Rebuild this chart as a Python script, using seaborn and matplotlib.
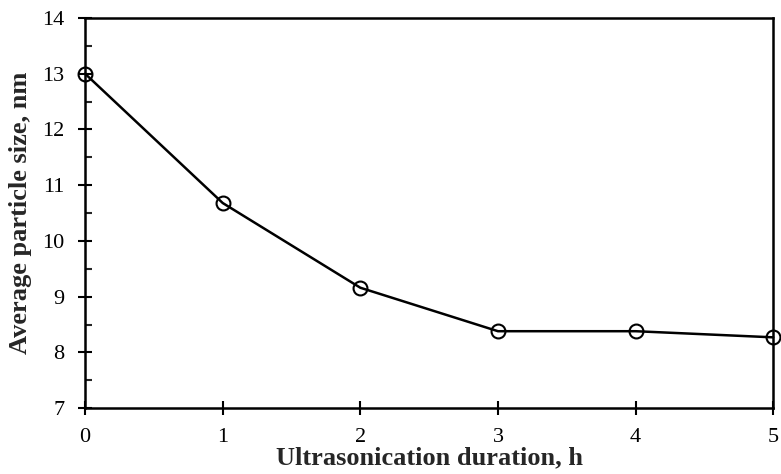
import matplotlib
matplotlib.use("Agg")
import matplotlib.pyplot as plt
import seaborn as sns
import pandas as pd
from matplotlib.ticker import MultipleLocator

duration_h = [0, 1, 2, 3, 4, 5]
particle_size_nm = [13.0, 10.68, 9.16, 8.38, 8.38, 8.27]

df = pd.DataFrame({"duration": duration_h, "size": particle_size_nm})

sns.set_style("ticks")
plt.rcParams['font.family'] = ['Liberation Serif', 'DejaVu Serif']

fig = plt.figure(figsize=(7.81, 4.74), dpi=100)
ax = fig.add_axes([0.109, 0.139, 0.881, 0.823])

sns.lineplot(data=df, x="duration", y="size", ax=ax, color="black", linewidth=1.8,
             marker="o", markersize=10, markerfacecolor="none", markeredgecolor="black",
             markeredgewidth=1.5, clip_on=False, zorder=5)

ax.set_xlim(0, 5)
ax.set_ylim(7, 14)
ax.xaxis.set_major_locator(MultipleLocator(1))
ax.yaxis.set_major_locator(MultipleLocator(1))
ax.yaxis.set_minor_locator(MultipleLocator(0.5))
ax.tick_params(axis="both", which="major", direction="inout", length=10, width=1.5,
               labelsize=16, colors="black")
ax.tick_params(axis="x", which="major", pad=9)
ax.tick_params(axis="y", which="major", pad=10)
ax.tick_params(axis="y", which="minor", direction="in", length=5, width=1.5)
for s in ax.spines.values():
    s.set_linewidth(1.8)
    s.set_color("black")

ax.set_xlabel("Ultrasonication duration, h", fontsize=19, fontweight="bold", labelpad=0)
ax.set_ylabel("Average particle size, nm", fontsize=19, fontweight="bold", labelpad=7)

fig.savefig("out.png", dpi=100)
